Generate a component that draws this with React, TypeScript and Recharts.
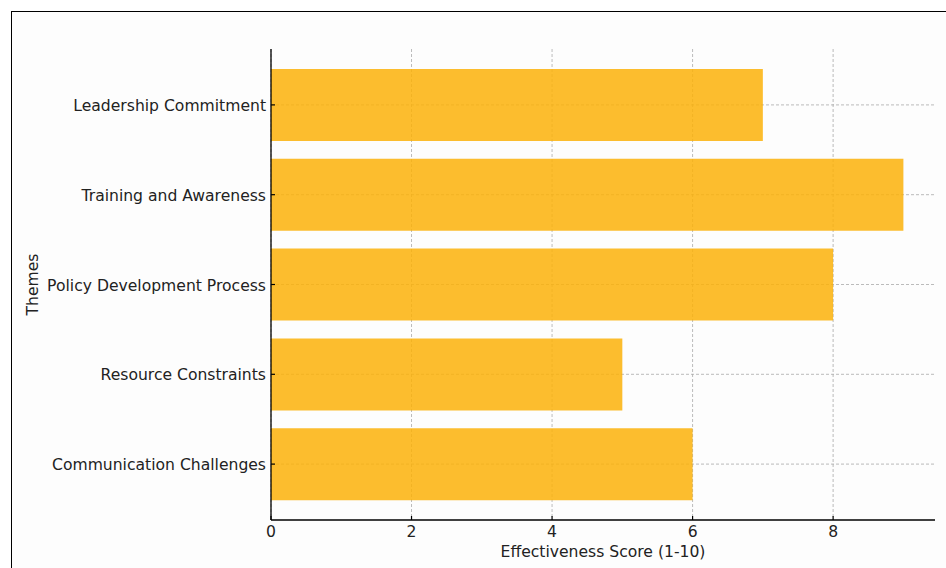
import { BarChart, Bar, XAxis, YAxis, CartesianGrid } from 'recharts'

const themes = [
  'Leadership Commitment',
  'Training and Awareness',
  'Policy Development Process',
  'Resource Constraints',
  'Communication Challenges',
]
const scores = [7, 9, 8, 5, 6]
const xTicks = [0, 2, 4, 6, 8]

const data = themes.map((theme, i) => ({ theme, score: scores[i] }))

const FONT = '"DejaVu Sans", sans-serif'
const TEXT = '#222'
const FS = 15.6

const YTick = (props: any) => {
  const { x, y, payload } = props
  return (
    <g>
      <line x1={x + 5} x2={x + 9} y1={y} y2={y} stroke="#000" strokeWidth={1.2} />
      <text x={x} y={y + 1} textAnchor="end" dominantBaseline="central" fontSize={FS} fill={TEXT} fontFamily={FONT}>
        {payload.value}
      </text>
    </g>
  )
}

const XTick = (props: any) => {
  const { x, y, payload } = props
  return (
    <g>
      <line x1={x} x2={x} y1={y - 5} y2={y - 9} stroke="#000" strokeWidth={1.2} />
      <text x={x} y={y + 1} dy="0.71em" textAnchor="middle" fontSize={FS} fill={TEXT} fontFamily={FONT}>
        {payload.value}
      </text>
    </g>
  )
}

export default function App() {
  return (
    <div style={{ position: 'absolute', left: 0, top: 0, width: 946, height: 568, overflow: 'hidden', background: '#fff' }}>
      <div
        style={{
          position: 'absolute',
          left: 11,
          top: 11,
          width: 1000,
          height: 700,
          border: '1.5px solid #000',
          background: '#fdfdfd',
        }}
      />
      <div style={{ position: 'absolute', left: 0, top: 0 }}>
        <BarChart
          width={946}
          height={568}
          data={data}
          layout="vertical"
          margin={{ top: 49, right: 11, bottom: 0, left: 0 }}
          barCategoryGap="10%"
        >
          <CartesianGrid stroke="#aaa" strokeDasharray="3 2" strokeWidth={0.8} syncWithTicks />
          <XAxis
            type="number"
            domain={[0, 9.45]}
            ticks={xTicks}
            height={48}
            tickSize={0}
            tickMargin={5}
            tick={<XTick />}
            axisLine={{ stroke: '#000', strokeWidth: 1.3 }}
            label={{
              content: ({ viewBox }: any) => (
                <text
                  x={viewBox.x + viewBox.width / 2}
                  y={viewBox.y + 37}
                  textAnchor="middle"
                  fontSize={FS}
                  fill={TEXT}
                  fontFamily={FONT}
                >
                  Effectiveness Score (1-10)
                </text>
              ),
            }}
          />
          <YAxis
            type="category"
            dataKey="theme"
            width={271}
            padding={{ top: 11, bottom: 11 }}
            tickSize={0}
            tickMargin={5}
            tick={<YTick />}
            axisLine={{ stroke: '#000', strokeWidth: 1.3 }}
            label={{
              content: ({ viewBox }: any) => (
                <text
                  x={33}
                  y={viewBox.y + viewBox.height / 2}
                  transform={`rotate(-90, 33, ${viewBox.y + viewBox.height / 2})`}
                  textAnchor="middle"
                  dominantBaseline="central"
                  fontSize={FS}
                  fill={TEXT}
                  fontFamily={FONT}
                >
                  Themes
                </text>
              ),
            }}
          />
          <Bar dataKey="score" fill="#fcb209" fillOpacity={0.85} isAnimationActive={false} />
        </BarChart>
      </div>
    </div>
  )
}
